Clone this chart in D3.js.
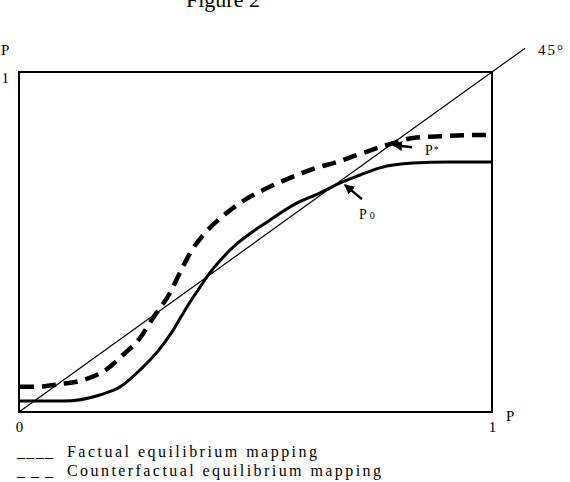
<!DOCTYPE html>
<html>
<head>
<meta charset="utf-8">
<script src="https://cdn.jsdelivr.net/npm/d3@7"></script>
<style>
  body { margin: 0; background: #fff; }
  text { font-family: "Liberation Serif", "Times New Roman", serif; fill: #000; }
</style>
</head>
<body>
<div id="chart"></div>
<script>
// Data (P on both axes, 0..1)
const factualX = [0, 0.093, 0.171, 0.214, 0.256, 0.292, 0.326, 0.355, 0.383, 0.397, 0.446, 0.531, 0.588, 0.636, 0.679, 0.721, 0.763, 0.833, 0.911, 1.0];
const factualY = [0.032, 0.032, 0.050, 0.074, 0.124, 0.176, 0.241, 0.309, 0.368, 0.397, 0.476, 0.565, 0.615, 0.644, 0.674, 0.697, 0.718, 0.732, 0.735, 0.735];

const counterX = [0.002, 0.030, 0.087, 0.135, 0.186, 0.220, 0.256, 0.283, 0.319, 0.340, 0.362, 0.393, 0.429, 0.471, 0.516, 0.567, 0.622, 0.672, 0.715, 0.784, 0.833, 0.905, 0.989, 1.0];
const counterY = [0.074, 0.074, 0.082, 0.094, 0.126, 0.168, 0.218, 0.276, 0.350, 0.409, 0.468, 0.526, 0.574, 0.618, 0.653, 0.685, 0.715, 0.735, 0.756, 0.788, 0.806, 0.812, 0.815, 0.815];

const diagonalEnd = 1.07;
const xTicks = [0, 1];
const yTicks = [1];

const width = 570;
const height = 482;

const x = d3.scaleLinear().domain([0, 1]).range([19, 492]);
const y = d3.scaleLinear().domain([0, 1]).range([412, 72]);

const svg = d3.select("#chart")
  .append("svg")
  .attr("width", width)
  .attr("height", height);

const defs = svg.append("defs");
defs.append("marker")
  .attr("id", "arrow")
  .attr("viewBox", "0 0 10 10")
  .attr("refX", 9)
  .attr("refY", 5)
  .attr("markerWidth", 4)
  .attr("markerHeight", 4)
  .attr("orient", "auto")
  .append("path")
  .attr("d", "M0,0 L10,5 L0,10 z")
  .attr("fill", "#000");

// title, partly above the top edge as in the scan
svg.append("text")
  .attr("x", 223)
  .attr("y", 7)
  .attr("text-anchor", "middle")
  .attr("font-size", "22px")
  .text("Figure 2");

// frame
svg.append("rect")
  .attr("x", x(0))
  .attr("y", y(1))
  .attr("width", x(1) - x(0))
  .attr("height", y(0) - y(1))
  .attr("fill", "none")
  .attr("stroke", "#000")
  .attr("stroke-width", 2);

// axes labels
const xAxis = d3.axisBottom(x).tickValues(xTicks).tickSize(0).tickPadding(9).tickFormat(d3.format("d"));
const gx = svg.append("g")
  .attr("transform", `translate(0, ${y(0)})`)
  .call(xAxis);
gx.select(".domain").remove();
gx.attr("font-family", null);
gx.selectAll("text").attr("font-size", "15px");

const yAxis = d3.axisLeft(y).tickValues(yTicks).tickSize(0).tickPadding(10).tickFormat(d3.format("d"));
const gy = svg.append("g")
  .attr("transform", `translate(${x(0)}, 0)`)
  .call(yAxis);
gy.select(".domain").remove();
gy.attr("font-family", null);
gy.selectAll("text").attr("font-size", "15px").attr("dy", "0.7em");

svg.append("text").attr("x", 1).attr("y", 55).attr("font-size", "15px").text("P");
svg.append("text").attr("x", 506).attr("y", 421).attr("font-size", "15px").text("P");

// 45 degree line
svg.append("line")
  .attr("x1", x(0)).attr("y1", y(0))
  .attr("x2", x(diagonalEnd)).attr("y2", y(diagonalEnd))
  .attr("stroke", "#000")
  .attr("stroke-width", 1.2);

svg.append("text")
  .attr("x", 538)
  .attr("y", 55)
  .attr("font-size", "15px")
  .attr("letter-spacing", "2px")
  .text("45°");

const line = d3.line()
  .x(d => x(d[0]))
  .y(d => y(d[1]))
  .curve(d3.curveMonotoneX);

svg.append("path")
  .datum(d3.zip(factualX, factualY))
  .attr("d", line)
  .attr("fill", "none")
  .attr("stroke", "#000")
  .attr("stroke-width", 3);

svg.append("path")
  .datum(d3.zip(counterX, counterY))
  .attr("d", line)
  .attr("fill", "none")
  .attr("stroke", "#000")
  .attr("stroke-width", 4.5)
  .attr("stroke-dasharray", "14,8");

// annotations
svg.append("line")
  .attr("x1", x(0.725)).attr("y1", y(0.626))
  .attr("x2", x(0.689)).attr("y2", y(0.668))
  .attr("stroke", "#000")
  .attr("stroke-width", 2.5)
  .attr("marker-end", "url(#arrow)");

svg.append("text")
  .attr("x", 359)
  .attr("y", 219)
  .attr("font-size", "14px")
  .html('P<tspan font-size="10px" dx="3">0</tspan>');

svg.append("line")
  .attr("x1", x(0.831)).attr("y1", y(0.779))
  .attr("x2", x(0.791)).attr("y2", y(0.785))
  .attr("stroke", "#000")
  .attr("stroke-width", 2.5)
  .attr("marker-end", "url(#arrow)");

svg.append("text")
  .attr("x", 425)
  .attr("y", 155)
  .attr("font-size", "14px")
  .html('P<tspan font-size="10px" dx="1" dy="-2">*</tspan>');

// legend
const legend = [
  { mark: "____", label: "Factual equilibrium mapping", y: 457, len: 250 },
  { mark: "_ _ _", label: "Counterfactual equilibrium mapping", y: 476, len: 314 }
];

legend.forEach(d => {
  svg.append("text")
    .attr("x", 17)
    .attr("y", d.y)
    .attr("font-size", "16px")
    .attr("textLength", 36)
    .attr("lengthAdjust", "spacing")
    .text(d.mark);
  svg.append("text")
    .attr("x", 67)
    .attr("y", d.y)
    .attr("font-size", "16px")
    .attr("textLength", d.len)
    .attr("lengthAdjust", "spacing")
    .text(d.label);
});
</script>
</body>
</html>
